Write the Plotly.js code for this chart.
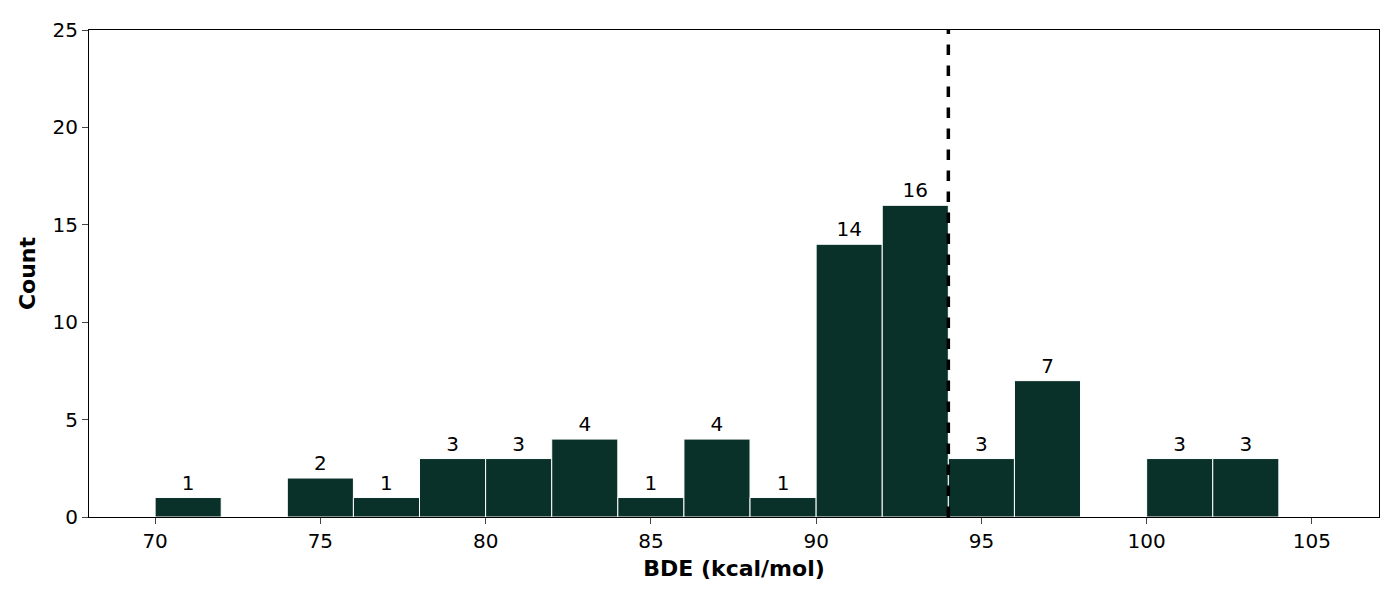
<html><head><script src="https://cdn.plot.ly/plotly-3.0.1.min.js"></script></head>
<body style="margin:0"><div id="c" style="width:1400px;height:600px"></div>
<script>
const binStarts = [70,72,74,76,78,80,82,84,86,88,90,92,94,96,98,100,102];
const counts = [1,0,2,1,3,3,4,1,4,1,14,16,3,7,0,3,3];
const binWidth = 2;
const thresholdX = 94;
const xTicks = [70,75,80,85,90,95,100,105];
const centers = binStarts.map(s => s + binWidth/2);
const labels = counts.map(c => c > 0 ? String(c) : '');
Plotly.newPlot('c', [{
  type:'bar', x:centers, y:counts, width:binWidth,
  marker:{color:'#0a3129', line:{color:'white', width:1}},
  text:labels, textposition:'outside', cliponaxis:false,
  textfont:{size:20, color:'black', family:'DejaVu Sans'}, hoverinfo:'skip'
}], {
  width:1400, height:600,
  margin:{l:89, r:21, t:30, b:83},
  paper_bgcolor:'white', plot_bgcolor:'white',
  font:{family:'DejaVu Sans', size:20, color:'black'},
  showlegend:false, bargap:0,
  xaxis:{range:[68,107.03], tickvals:xTicks, ticks:'outside', ticklen:6, showgrid:false, zeroline:false,
    showline:true, mirror:true, linecolor:'black', linewidth:1,
    title:{text:'<b>BDE (kcal/mol)</b>', font:{size:22}, standoff:8}},
  yaxis:{range:[0,25], tickvals:[0,5,10,15,20,25], ticks:'outside', ticklen:6, showgrid:false, zeroline:false,
    showline:true, mirror:true, linecolor:'black', linewidth:1,
    title:{text:'<b>Count</b>', font:{size:22}, standoff:10}},
  shapes:[{type:'line', xref:'x', yref:'paper', x0:thresholdX, x1:thresholdX, y0:0, y1:1,
    line:{color:'black', width:3.5, dash:'dash'}}]
}, {staticPlot:true});
</script></body></html>
